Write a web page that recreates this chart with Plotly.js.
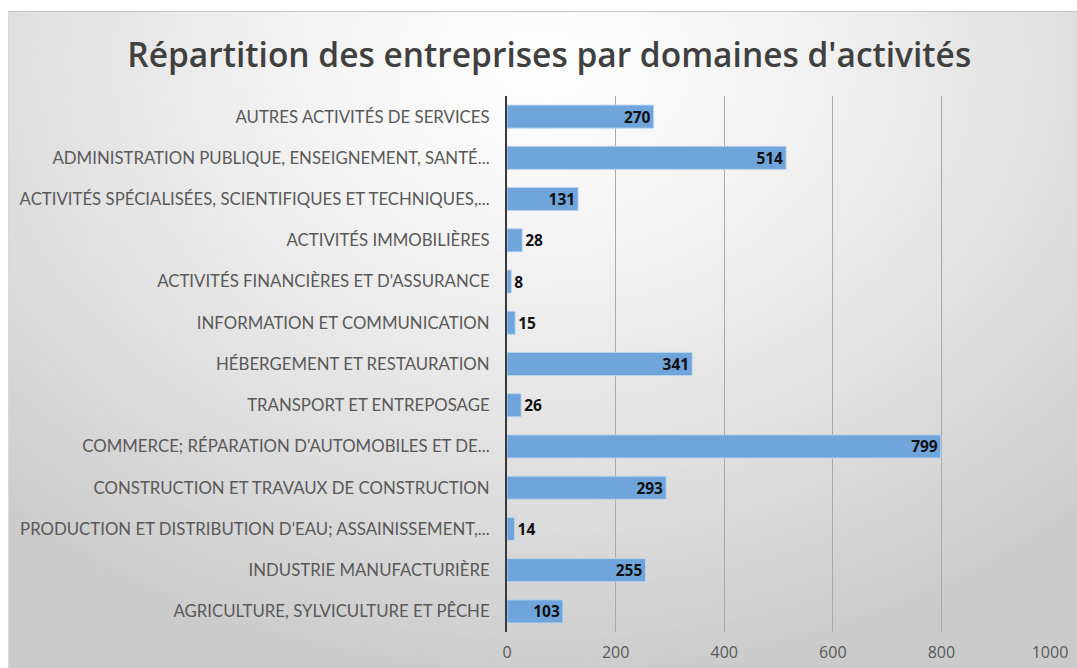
<!DOCTYPE html>
<html>
<head>
<meta charset="utf-8">
<script src="https://cdn.plot.ly/plotly-3.0.1.min.js"></script>
<style>
  html, body { margin:0; padding:0; background:#ffffff; width:1077px; height:668px; overflow:hidden; }
  #bg { position:absolute; left:8px; top:11px; width:1069px; height:657px;
        background: radial-gradient(ellipse 75% 95% at 50% 8%, #ffffff 0%, #f3f3f3 30%, #e0e0e0 65%, #cbcbcb 100%);
        border-top:1px solid #c4c4c4; border-left:1px solid #d8d8d8; }
  #chart { position:absolute; left:0; top:0; width:1077px; height:668px; }
</style>
</head>
<body>
<div id="bg"></div>
<div id="chart"></div>
<script>
const categories = [
  "AUTRES ACTIVITÉS DE SERVICES",
  "ADMINISTRATION PUBLIQUE, ENSEIGNEMENT, SANTÉ...",
  "ACTIVITÉS SPÉCIALISÉES, SCIENTIFIQUES ET TECHNIQUES,...",
  "ACTIVITÉS IMMOBILIÈRES",
  "ACTIVITÉS FINANCIÈRES ET D'ASSURANCE",
  "INFORMATION ET COMMUNICATION",
  "HÉBERGEMENT ET RESTAURATION",
  "TRANSPORT ET ENTREPOSAGE",
  "COMMERCE; RÉPARATION D'AUTOMOBILES ET DE...",
  "CONSTRUCTION ET TRAVAUX DE CONSTRUCTION",
  "PRODUCTION ET DISTRIBUTION D'EAU; ASSAINISSEMENT,...",
  "INDUSTRIE MANUFACTURIÈRE",
  "AGRICULTURE, SYLVICULTURE ET PÊCHE"
];
const values = [270, 514, 131, 28, 8, 15, 341, 26, 799, 293, 14, 255, 103];
const xTicks = [0, 200, 400, 600, 800, 1000];

const labelFont = { family: 'Open Sans, sans-serif', size: 15.5, color: '#111111', weight: 700 };

const trace = {
  type: 'bar',
  orientation: 'h',
  x: values,
  y: categories,
  text: values.map(String),
  textposition: 'auto',
  insidetextanchor: 'end',
  constraintext: 'none',
  cliponaxis: false,
  textfont: labelFont,
  insidetextfont: labelFont,
  outsidetextfont: labelFont,
  marker: { color: '#6fa5db', line: { color: 'rgba(190,215,240,0.9)', width: 1 } },
  hoverinfo: 'x+y'
};

const layout = {
  width: 1077, height: 668,
  paper_bgcolor: 'rgba(0,0,0,0)',
  plot_bgcolor: 'rgba(0,0,0,0)',
  margin: { l: 507, r: 27, t: 96, b: 36, pad: 0 },
  title: {
    text: "Répartition des entreprises par domaines d'activités",
    font: { family: 'Open Sans, sans-serif', size: 33.5, color: '#404040', weight: 600 },
    x: 0.51, xanchor: 'center', y: 0.918, yanchor: 'middle'
  },
  bargap: 0.44,
  showlegend: false,
  xaxis: {
    range: [0, 1000],
    tickvals: xTicks,
    ticktext: xTicks.map(String),
    showgrid: true,
    gridcolor: '#a9a9a9',
    gridwidth: 1,
    zeroline: false,
    showline: false,
    ticks: '',
    ticklabelstandoff: 9,
    tickfont: { family: 'Open Sans, sans-serif', size: 16, color: '#595959' },
    fixedrange: true
  },
  yaxis: {
    type: 'category',
    autorange: 'reversed',
    showgrid: false,
    showline: true,
    linecolor: '#3a3a3a',
    linewidth: 2,
    ticks: '',
    ticklabelstandoff: 12,
    tickfont: { family: 'Lato, sans-serif', size: 16.8, color: '#595959' },
    fixedrange: true
  }
};

Plotly.newPlot('chart', [trace], layout, { displayModeBar: false, staticPlot: true });
</script>
</body>
</html>
